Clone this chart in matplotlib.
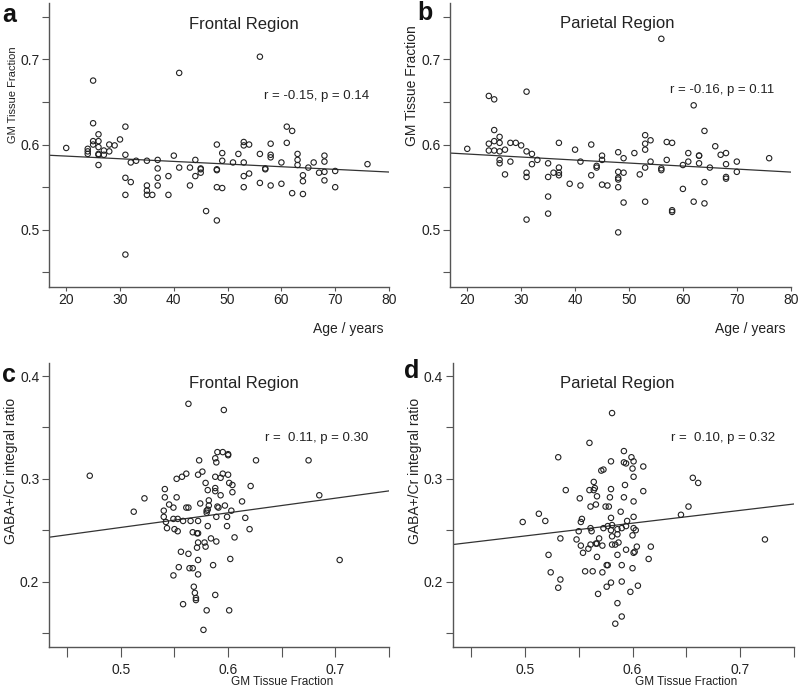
import numpy as np
import matplotlib
matplotlib.use('Agg')
import matplotlib.pyplot as plt

plt.rcParams['font.family'] = ['Liberation Sans', 'DejaVu Sans']

# ---- panel a: frontal GM fraction vs age
age_a = [20,
         24, 24, 24,
         25, 25, 25, 25,
         26, 26, 26, 26, 26, 26,
         27, 27, 28, 28, 29, 30,
         31, 31, 31, 31, 31,
         32, 32, 33,
         35, 35, 35, 35, 36,
         37, 37, 37, 37,
         39, 39, 40, 41, 41, 43, 43, 44, 44,
         45, 45, 45, 46,
         48, 48, 48, 48, 48,
         49, 49, 49, 51, 52,
         53, 53, 53, 53, 53,
         54, 54, 56, 56, 56, 57, 57,
         58, 58, 58, 58, 60, 60, 61, 61, 62, 62,
         63, 63, 63, 64, 64, 64, 65, 66, 67,
         68, 68, 68, 68, 70, 70, 76]
gm_a = [0.596,
        0.595, 0.592, 0.589,
        0.675, 0.625, 0.604, 0.600,
        0.612, 0.604, 0.597, 0.589, 0.588, 0.576,
        0.593, 0.588, 0.600, 0.592, 0.599, 0.606,
        0.621, 0.588, 0.561, 0.541, 0.471,
        0.579, 0.556, 0.581,
        0.581, 0.552, 0.546, 0.541, 0.541,
        0.582, 0.572, 0.561, 0.552,
        0.563, 0.541, 0.587, 0.684, 0.573, 0.573, 0.552, 0.582, 0.563,
        0.572, 0.571, 0.567, 0.522,
        0.600, 0.571, 0.570, 0.550, 0.511,
        0.590, 0.581, 0.549, 0.579, 0.589,
        0.603, 0.599, 0.579, 0.563, 0.550,
        0.600, 0.566, 0.703, 0.589, 0.555, 0.572, 0.571,
        0.601, 0.588, 0.585, 0.552, 0.579, 0.554, 0.621, 0.602, 0.616, 0.543,
        0.589, 0.582, 0.576, 0.564, 0.557, 0.542, 0.573, 0.579, 0.567,
        0.587, 0.580, 0.568, 0.558, 0.569, 0.550, 0.577]

# ---- panel b: parietal GM fraction vs age
age_b = [20,
         24, 24, 24,
         25, 25, 25, 25,
         26, 26, 26, 26, 26,
         27, 27, 28, 28, 29, 30,
         31, 31, 31, 31, 31,
         32, 32, 33,
         35, 35, 35, 35, 36,
         37, 37, 37, 37,
         39, 40, 41, 41, 43, 43, 44, 44,
         45, 45, 45, 46,
         48, 48, 48, 48, 48, 48,
         49, 49, 49, 51, 52,
         53, 53, 53, 53, 53,
         54, 54, 56, 56, 56, 57, 57,
         58, 58, 58, 60, 60, 61, 61, 62, 62,
         63, 63, 63, 64, 64, 64, 65, 66, 67,
         68, 68, 68, 68, 70, 70, 76]
gm_b = [0.595,
        0.657, 0.601, 0.593,
        0.653, 0.617, 0.604, 0.593,
        0.609, 0.602, 0.592, 0.582, 0.578,
        0.594, 0.565, 0.602, 0.580, 0.602, 0.599,
        0.662, 0.592, 0.567, 0.562, 0.512,
        0.589, 0.577, 0.582,
        0.578, 0.562, 0.539, 0.519, 0.567,
        0.602, 0.573, 0.567, 0.564,
        0.554, 0.594, 0.580, 0.552, 0.600, 0.564, 0.575, 0.573,
        0.587, 0.582, 0.553, 0.552,
        0.591, 0.568, 0.561, 0.559, 0.550, 0.497,
        0.584, 0.567, 0.532, 0.590, 0.565,
        0.611, 0.601, 0.594, 0.573, 0.533,
        0.605, 0.580, 0.724, 0.572, 0.570, 0.603, 0.582,
        0.602, 0.523, 0.521, 0.576, 0.548, 0.590, 0.580, 0.646, 0.533,
        0.587, 0.587, 0.578, 0.616, 0.556, 0.531, 0.573, 0.598, 0.588,
        0.590, 0.577, 0.562, 0.560, 0.580, 0.568, 0.584]

# ---- panel c: frontal GABA+/Cr vs GM fraction
gm_c = [0.563, 0.596, 0.471, 0.522, 0.512, 0.590, 0.595, 0.600, 0.600, 0.588,
        0.589, 0.573, 0.552, 0.557, 0.561, 0.572, 0.576, 0.588, 0.593, 0.595,
        0.600, 0.579, 0.601, 0.604, 0.581, 0.588, 0.588, 0.604, 0.541, 0.541,
        0.552, 0.593, 0.621, 0.613, 0.582, 0.545, 0.549, 0.561, 0.563, 0.574,
        0.582, 0.581, 0.580, 0.580, 0.590, 0.591, 0.597, 0.603, 0.540, 0.540,
        0.542, 0.543, 0.549, 0.553, 0.558, 0.565, 0.572, 0.589, 0.599, 0.616,
        0.550, 0.553, 0.567, 0.571, 0.572, 0.581, 0.599, 0.620, 0.606, 0.584,
        0.589, 0.572, 0.578, 0.579, 0.571, 0.556, 0.563, 0.572, 0.602, 0.586,
        0.554, 0.564, 0.567, 0.549, 0.572, 0.568, 0.569, 0.570, 0.570, 0.588,
        0.558, 0.580, 0.601, 0.577, 0.626, 0.675, 0.685, 0.704]
gaba_c = [0.373, 0.367, 0.303, 0.281, 0.268, 0.326, 0.326, 0.324, 0.323, 0.320,
          0.316, 0.318, 0.300, 0.302, 0.305, 0.304, 0.307, 0.302, 0.301, 0.305,
          0.304, 0.296, 0.296, 0.294, 0.289, 0.291, 0.288, 0.287, 0.290, 0.282,
          0.282, 0.284, 0.293, 0.278, 0.279, 0.275, 0.272, 0.272, 0.272, 0.276,
          0.274, 0.270, 0.269, 0.267, 0.273, 0.272, 0.274, 0.269, 0.269, 0.263,
          0.258, 0.252, 0.261, 0.261, 0.259, 0.259, 0.259, 0.263, 0.263, 0.262,
          0.251, 0.249, 0.248, 0.247, 0.247, 0.254, 0.254, 0.251, 0.243, 0.242,
          0.239, 0.238, 0.238, 0.234, 0.233, 0.229, 0.227, 0.221, 0.222, 0.216,
          0.214, 0.213, 0.213, 0.206, 0.207, 0.195, 0.189, 0.184, 0.182, 0.187,
          0.178, 0.172, 0.172, 0.153, 0.318, 0.318, 0.284, 0.221]

# ---- panel d: parietal GABA+/Cr vs GM fraction
gm_d = [0.581, 0.560, 0.531, 0.592, 0.599, 0.601, 0.580, 0.592, 0.594, 0.600,
        0.610, 0.571, 0.573, 0.601, 0.564, 0.565, 0.560, 0.564, 0.538, 0.580,
        0.593, 0.610, 0.567, 0.551, 0.579, 0.592, 0.601, 0.566, 0.575, 0.578,
        0.561, 0.589, 0.513, 0.498, 0.519, 0.553, 0.552, 0.580, 0.595, 0.601,
        0.561, 0.562, 0.550, 0.573, 0.577, 0.581, 0.580, 0.586, 0.590, 0.594,
        0.601, 0.603, 0.600, 0.533, 0.548, 0.552, 0.554, 0.561, 0.566, 0.569,
        0.567, 0.572, 0.581, 0.586, 0.581, 0.584, 0.587, 0.559, 0.594, 0.604,
        0.601, 0.602, 0.522, 0.567, 0.586, 0.615, 0.617, 0.576, 0.577, 0.590,
        0.600, 0.524, 0.556, 0.563, 0.572, 0.533, 0.531, 0.580, 0.576, 0.590,
        0.605, 0.598, 0.568, 0.586, 0.590, 0.584, 0.656, 0.661, 0.652, 0.645,
        0.723]
gaba_d = [0.364, 0.335, 0.321, 0.327, 0.321, 0.317, 0.317, 0.316, 0.315, 0.310,
          0.312, 0.308, 0.309, 0.302, 0.297, 0.291, 0.289, 0.289, 0.289, 0.290,
          0.294, 0.288, 0.283, 0.281, 0.282, 0.282, 0.278, 0.275, 0.273, 0.273,
          0.273, 0.268, 0.266, 0.258, 0.259, 0.261, 0.258, 0.262, 0.259, 0.263,
          0.252, 0.249, 0.249, 0.252, 0.254, 0.255, 0.250, 0.251, 0.252, 0.254,
          0.252, 0.250, 0.245, 0.242, 0.241, 0.235, 0.228, 0.236, 0.237, 0.242,
          0.237, 0.235, 0.244, 0.246, 0.236, 0.236, 0.238, 0.232, 0.231, 0.234,
          0.228, 0.229, 0.226, 0.224, 0.226, 0.222, 0.234, 0.216, 0.216, 0.216,
          0.213, 0.209, 0.210, 0.210, 0.209, 0.202, 0.194, 0.199, 0.195, 0.200,
          0.196, 0.190, 0.188, 0.179, 0.166, 0.159, 0.301, 0.296, 0.273, 0.265,
          0.241]

titles = ['Frontal Region', 'Parietal Region', 'Frontal Region', 'Parietal Region']
stats = ['r = -0.15, p = 0.14', 'r = -0.16, p = 0.11',
         'r =  0.11, p = 0.30', 'r =  0.10, p = 0.32']

age_ticks = [20, 30, 40, 50, 60, 70, 80]
gm_ticks = [0.45, 0.5, 0.55, 0.6, 0.65, 0.7, 0.75]
gm_ticklabels = ['', '0.5', '', '0.6', '', '0.7', '']
gaba_ticks = [0.15, 0.2, 0.25, 0.3, 0.35, 0.4]
gaba_ticklabels = ['', '0.2', '', '0.3', '', '0.4']

ink = '#222222'

fig = plt.figure(figsize=(8, 6.93), dpi=100)
ax_a = fig.add_axes([0.06125, 0.5859, 0.425, 0.4098])
ax_b = fig.add_axes([0.5625, 0.5859, 0.4259, 0.4098])
ax_c = fig.add_axes([0.06125, 0.0659, 0.425, 0.4107])
ax_d = fig.add_axes([0.5659, 0.0659, 0.4266, 0.4107])


def panel(ax, x, y, xlim, ylim):
    ax.scatter(x, y, s=15, facecolors='none', edgecolors=ink,
               linewidths=0.8, zorder=3)
    coef = np.polyfit(x, y, 1)
    xs = np.array(xlim)
    ax.plot(xs, np.polyval(coef, xs), color='#333333', lw=0.9, zorder=2)
    ax.set_xlim(xlim)
    ax.set_ylim(ylim)
    for s in ['top', 'right']:
        ax.spines[s].set_visible(False)
    for s in ['left', 'bottom']:
        ax.spines[s].set_color('#555555')
        ax.spines[s].set_linewidth(1.0)
    ax.tick_params(direction='out', length=5, width=0.8, color='#555555',
                   labelsize=10, labelcolor=ink, pad=2)


panel(ax_a, age_a, gm_a, (16.8, 80), (0.433, 0.766))
panel(ax_b, age_b, gm_b, (16.8, 80), (0.433, 0.766))
panel(ax_c, gm_c, gaba_c, (0.433, 0.75), (0.136, 0.413))
panel(ax_d, gm_d, gaba_d, (0.433, 0.75), (0.136, 0.413))

ylab_size = [8, 10]
ylab_y = [0.678, 0.708]
for i, ax in enumerate([ax_a, ax_b]):
    ax.set_xticks(age_ticks)
    ax.set_yticks(gm_ticks)
    ax.set_yticklabels(gm_ticklabels)
    ax.tick_params(axis='x', length=3, pad=1)
    ax.set_xlabel('Age / years', fontsize=10, color=ink)
    ax.xaxis.set_label_coords(0.88, -0.125)
    ax.set_ylabel('GM Tissue Fraction', fontsize=ylab_size[i], color=ink)
    ax.yaxis.set_label_coords(-0.09, ylab_y[i])

for ax in [ax_c, ax_d]:
    ax.set_xticks(gm_ticks)
    ax.set_xticklabels(gm_ticklabels)
    ax.set_yticks(gaba_ticks)
    ax.set_yticklabels(gaba_ticklabels)
    ax.tick_params(axis='x', length=7, pad=4)
    ax.set_xlabel('GM Tissue Fraction', fontsize=8.5, color=ink)
    ax.xaxis.set_label_coords(0.685, -0.1)
    ax.set_ylabel('GABA+/Cr integral ratio', fontsize=10, color=ink)
    ax.yaxis.set_label_coords(-0.09, 0.62)

title_x = [0.574, 0.49, 0.574, 0.481]
title_y = [0.925, 0.928, 0.928, 0.928]
stats_x = [0.788, 0.798, 0.787, 0.793]
stats_y = [0.673, 0.694, 0.734, 0.734]
for i, ax in enumerate([ax_a, ax_b, ax_c, ax_d]):
    ax.text(title_x[i], title_y[i], titles[i], transform=ax.transAxes,
            ha='center', va='center', fontsize=12, color=ink)
    ax.text(stats_x[i], stats_y[i], stats[i], transform=ax.transAxes,
            ha='center', va='center', fontsize=9.5, color=ink)

letters = ['a', 'b', 'c', 'd']
letter_xy = [(0.011, 0.978), (0.531, 0.981), (0.011, 0.459), (0.514, 0.465)]
for lab, (lx, ly) in zip(letters, letter_xy):
    fig.text(lx, ly, lab, fontsize=18, fontweight='bold', ha='center',
             va='center', color='#111111')

fig.savefig('out.png', dpi=100, facecolor='white')
